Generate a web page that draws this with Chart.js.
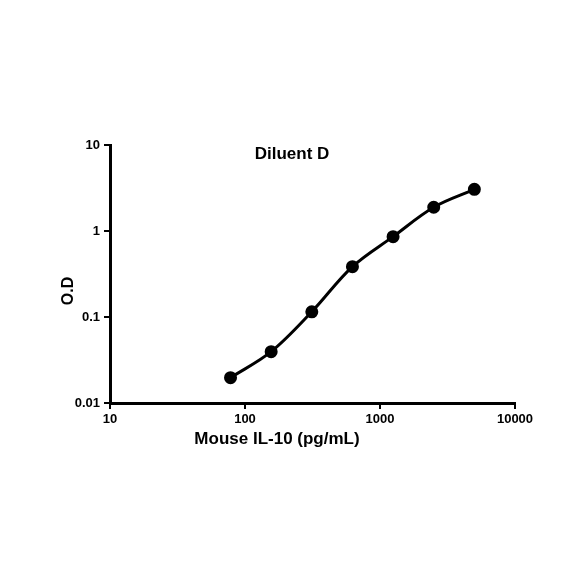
<!DOCTYPE html>
<html>
<head>
<meta charset="utf-8">
<script src="https://cdn.jsdelivr.net/npm/chart.js@4"></script>
<style>
  html, body { margin: 0; padding: 0; background: #fff; }
  #c { display: block; }
</style>
</head>
<body>
<canvas id="c" width="584" height="584"></canvas>
<script>
// standard curve, Diluent D
const concentrations = [78.125, 156.25, 312.5, 625, 1250, 2500, 5000];
const odValues = [0.0197, 0.0395, 0.115, 0.385, 0.86, 1.89, 3.05];
const xTicks = [10, 100, 1000, 10000];
const yTicks = [0.01, 0.1, 1, 10];
const yTickLabels = ['0.01', '0.1', '1', '10'];

const FONT = '"Liberation Sans", Arial, sans-serif';

// titles drawn at fixed spots like the original figure
const textPlugin = {
  id: 'figText',
  afterDraw(chart) {
    const ctx = chart.ctx;
    ctx.save();
    ctx.fillStyle = '#000';
    ctx.textAlign = 'center';
    ctx.textBaseline = 'middle';
    ctx.font = 'bold 17px ' + FONT;
    ctx.fillText('Diluent D', 292, 154);
    ctx.fillText('Mouse IL-10 (pg/mL)', 277, 439);
    ctx.translate(69, 291);
    ctx.rotate(-Math.PI / 2);
    ctx.font = 'bold 16px ' + FONT;
    ctx.fillText('O.D', 0, 0);
    ctx.restore();
  }
};

new Chart(document.getElementById('c'), {
  type: 'scatter',
  data: {
    datasets: [{
      data: concentrations.map((x, i) => ({ x: x, y: odValues[i] })),
      showLine: true,
      tension: 0.35,
      borderColor: '#000',
      backgroundColor: '#000',
      borderWidth: 3,
      pointRadius: 5,
      pointHoverRadius: 5
    }]
  },
  options: {
    responsive: false,
    animation: false,
    layout: { padding: { left: 0, top: 145, right: 69, bottom: 0 } },
    plugins: {
      legend: { display: false },
      tooltip: { enabled: false }
    },
    scales: {
      x: {
        type: 'logarithmic',
        min: 10,
        max: 10000,
        afterBuildTicks: (s) => { s.ticks = xTicks.map(v => ({ value: v })); },
        afterFit: (s) => { s.height = 181; },
        border: { color: '#000', width: 3 },
        grid: { drawOnChartArea: false, color: '#000', lineWidth: 2, tickLength: 6 },
        ticks: {
          color: '#000',
          padding: 3,
          maxRotation: 0,
          font: { family: FONT, size: 13, weight: 'bold' },
          callback: (v) => String(v)
        }
      },
      y: {
        type: 'logarithmic',
        min: 0.01,
        max: 10,
        afterBuildTicks: (s) => { s.ticks = yTicks.map(v => ({ value: v })); },
        afterFit: (s) => { s.width = 110; },
        border: { color: '#000', width: 3 },
        grid: { drawOnChartArea: false, color: '#000', lineWidth: 2, tickLength: 6 },
        ticks: {
          color: '#000',
          padding: 4,
          font: { family: FONT, size: 13, weight: 'bold' },
          callback: (v) => yTickLabels[yTicks.indexOf(v)] ?? ''
        }
      }
    }
  },
  plugins: [textPlugin]
});
</script>
</body>
</html>
